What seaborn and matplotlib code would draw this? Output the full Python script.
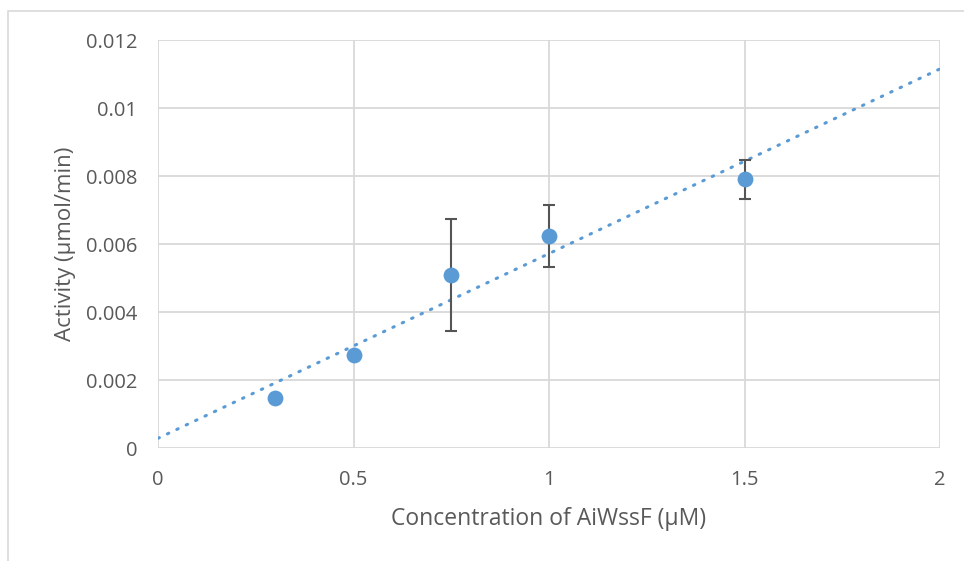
import numpy as np
import pandas as pd
import matplotlib
matplotlib.use("Agg")
import matplotlib.pyplot as plt
import seaborn as sns
from matplotlib.patches import Rectangle

# values
conc = [0.3, 0.5, 0.75, 1.0, 1.5]
activity = [0.00146, 0.00274, 0.00509, 0.00624, 0.0079]
err = [0.0, 0.0, 0.00166, 0.00091, 0.00057]
xticks = [0, 0.5, 1, 1.5, 2]
yticks = [0, 0.002, 0.004, 0.006, 0.008, 0.01, 0.012]
ytick_labels = ["0", "0.002", "0.004", "0.006", "0.008", "0.01", "0.012"]
xtick_labels = ["0", "0.5", "1", "1.5", "2"]

df = pd.DataFrame({"conc": conc, "activity": activity, "err": err})

sns.set_theme(style="whitegrid")
plt.rcParams["font.family"] = ["Open Sans", "DejaVu Sans"]

blue = "#5B9BD5"
grey_txt = "#595959"
grid_c = "#D9D9D9"

fig = plt.figure(figsize=(9.64, 5.61), dpi=100)
ax = fig.add_axes([158/964, 1-448/561, (940-158)/964, (448-40)/561])

# outer chart border
fig.patches.append(Rectangle((8/964, -0.1), 1.2, 1-11/561+0.1, transform=fig.transFigure,
                             fill=False, edgecolor=grid_c, lw=1.2, clip_on=False))

ax.set_xlim(0, 2)
ax.set_ylim(0, 0.012)

# linear trendline
slope, icpt = np.polyfit(df["conc"], df["activity"], 1)
xx = np.array([0, 2])
ax.plot(xx, slope*xx + icpt, color=blue, lw=2.2, linestyle=(0, (0.5, 2.9)),
        dash_capstyle="round", zorder=3)

e = df[df["err"] > 0]
ax.errorbar(e["conc"], e["activity"], yerr=e["err"], fmt="none", ecolor="#555555",
            elinewidth=1.5, capsize=4.5, capthick=1.5, zorder=4)
sns.scatterplot(data=df, x="conc", y="activity", ax=ax, color=blue, s=130,
                edgecolor=blue, linewidth=0, zorder=5)

ax.set_xticks(xticks)
ax.set_xticklabels(xtick_labels)
ax.set_yticks(yticks)
ax.set_yticklabels(ytick_labels)
ax.grid(True, color=grid_c, lw=1.3)
for s in ax.spines.values():
    s.set_visible(False)
ax.tick_params(axis="both", length=0, labelsize=14.5, colors=grey_txt)
ax.tick_params(axis="x", pad=16)
ax.tick_params(axis="y", pad=15)
t0 = ax.xaxis.get_major_ticks()[0]
t0.tick1line.set_markersize(7)
t0.tick1line.set_color(grid_c)
t0.tick1line.set_markeredgewidth(1.3)

ax.set_xlabel("Concentration of AiWssF (µM)", fontsize=16.5, color=grey_txt, labelpad=12)
ax.set_ylabel("Activity (µmol/min)", fontsize=16, color=grey_txt, labelpad=7)

fig.savefig("out.png", dpi=100)
